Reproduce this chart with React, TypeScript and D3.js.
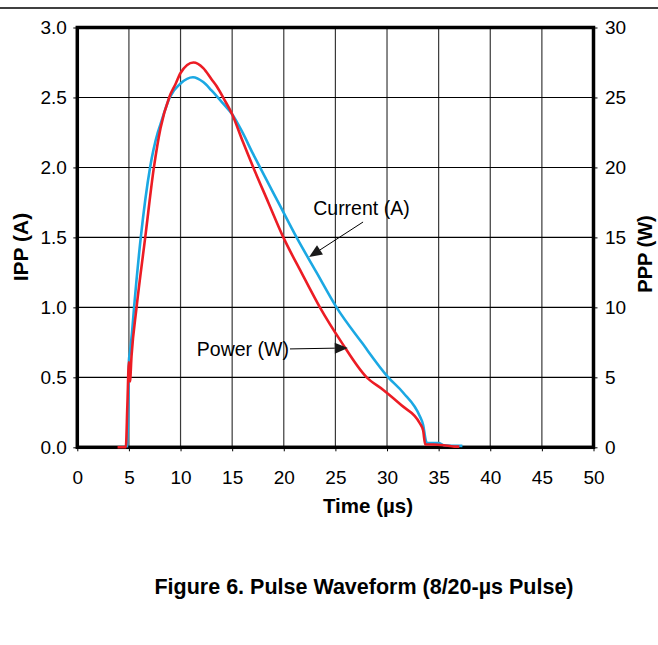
import * as React from 'react';
import * as d3 from 'd3';

const WIDTH = 658;
const HEIGHT = 645;
const FONT = '"Liberation Sans", Arial, Helvetica, sans-serif';

// plot frame in page pixels
const MARGINS = { left: 77.3, right: 658 - 593.5, top: 27.5, bottom: 645 - 447.3 };

const X_TICKS = [0, 5, 10, 15, 20, 25, 30, 35, 40, 45, 50];
const Y_TICKS_A = [0, 0.5, 1.0, 1.5, 2.0, 2.5, 3.0];
const Y_TICKS_W = [0, 5, 10, 15, 20, 25, 30];

// Current (A) trace
const currentTime = [
    4.8, 4.95, 5.0, 5.1, 5.3, 5.5, 6.15, 7.05, 7.8, 8.06, 8.95, 10.0, 11.2, 12.2, 13.0, 13.5,
    14.2, 15.0, 16.0, 17.0, 17.7, 19.47, 21.24, 23.17, 25.11, 27.54, 30.12, 31.57, 33.19, 33.5,
    33.75, 33.85, 35.0, 35.5, 37.3
];
const currentAmps = [
    0, 0.3, 0.62, 0.68, 0.82, 1.0, 1.5, 2.0, 2.25, 2.31, 2.5, 2.6, 2.645, 2.61, 2.55, 2.51,
    2.45, 2.38, 2.25, 2.1, 2.0, 1.75, 1.5, 1.25, 1.0, 0.75, 0.5, 0.39, 0.22, 0.16,
    0.05, 0.03, 0.03, 0.015, 0.01
];

// Power (W) trace
const powerTime = [
    3.9, 4.7, 4.85, 5.0, 5.1, 5.25, 5.74, 6.58, 7.42, 8.06, 8.9, 9.54, 10.0, 11.25, 12.2, 13.0,
    13.5, 14.2, 15.0, 16.0, 17.05, 18.5, 19.96, 21.7, 23.5, 25.6, 28.03, 29.64, 31.4, 33.19,
    33.5, 33.7, 34.5, 35.5, 36.5, 37.0
];
const powerWatts = [
    0, 0, 3.0, 6.1, 4.7, 6.5, 10, 15, 20, 22.8, 25, 26.0, 26.75, 27.5, 27.1, 26.3,
    25.8, 24.9, 23.8, 21.9, 20.0, 17.5, 15, 12.5, 10, 7.5, 5, 4.1, 3.0, 1.7,
    1.2, 0.2, 0.2, 0.15, 0.05, 0.05
];

// callouts in data units: label anchor, arrow tail, arrow tip
const CALLOUT_TEXT = ['Current (A)', 'Power (W)'];
const CALLOUT_ANCHOR = ['start', 'end'];
const CALLOUT_LABEL_POS = [[22.85, 1.66], [20.5, 0.653]];
const CALLOUT_TAIL = [[27.68, 1.61], [20.6, 0.703]];
const CALLOUT_TIP = [[22.45, 1.36], [26.2, 0.71]];

const BLUE = '#1ba8e3';
const RED = '#ec1c24';

export default function App() {
    const ref = React.useRef<SVGSVGElement>(null);

    React.useEffect(() => {
        const el = ref.current;
        if (!el) return;
        const svg = d3.select(el);
        svg.selectAll('*').remove();

        const x0 = MARGINS.left;
        const x1 = WIDTH - MARGINS.right;
        const y0 = HEIGHT - MARGINS.bottom;
        const y1 = MARGINS.top;

        const xScale = d3.scaleLinear().domain([0, 50]).range([x0, x1]);
        const yScale = d3.scaleLinear().domain([0, 3]).range([y0, y1]);
        const y2Scale = d3.scaleLinear().domain([0, 30]).range([y0, y1]);

        // rule across the top of the page
        svg.append('line')
            .attr('x1', 0).attr('x2', WIDTH)
            .attr('y1', 8).attr('y2', 8)
            .attr('stroke', '#000').attr('stroke-width', 1.5);

        // GRID
        const grid = svg.append('g').attr('class', 'grid');
        grid.selectAll('line.v')
            .data(X_TICKS.slice(1, -1))
            .enter().append('line')
            .attr('class', 'v')
            .attr('x1', d => xScale(d)).attr('x2', d => xScale(d))
            .attr('y1', y0).attr('y2', y1)
            .attr('stroke', '#3a3a3a').attr('stroke-width', 1.2);
        grid.selectAll('line.h')
            .data(Y_TICKS_A.slice(1, -1))
            .enter().append('line')
            .attr('class', 'h')
            .attr('x1', x0).attr('x2', x1)
            .attr('y1', d => yScale(d)).attr('y2', d => yScale(d))
            .attr('stroke', '#000').attr('stroke-width', 1.1);

        // AXES
        const styleAxis = (g: any) => {
            g.select('.domain').remove();
            g.selectAll('.tick line').attr('stroke', '#000').attr('stroke-width', 1);
            g.selectAll('.tick text')
                .attr('fill', '#000')
                .style('font-family', FONT)
                .style('font-size', '19px');
        };

        const yCall = d3.axisLeft(yScale)
            .tickValues(Y_TICKS_A)
            .tickFormat(d3.format('.1f') as any)
            .tickSize(4).tickPadding(6.5);
        svg.append('g').attr('class', 'axis y')
            .attr('transform', 'translate(' + [x0, 0] + ')')
            .call(yCall).call(styleAxis);

        const ryCall = d3.axisRight(y2Scale)
            .tickValues(Y_TICKS_W)
            .tickFormat(d3.format('d') as any)
            .tickSize(4).tickPadding(7.5);
        svg.append('g').attr('class', 'axis ry')
            .attr('transform', 'translate(' + [x1, 0] + ')')
            .call(ryCall).call(styleAxis);

        const xCall = d3.axisBottom(xScale)
            .tickValues(X_TICKS)
            .tickFormat(d3.format('d') as any)
            .tickSize(4).tickPadding(19);
        svg.append('g').attr('class', 'axis x')
            .attr('transform', 'translate(' + [0, y0] + ')')
            .call(xCall).call(styleAxis);

        // frame
        svg.append('rect')
            .attr('x', x0).attr('y', y1)
            .attr('width', x1 - x0).attr('height', y0 - y1)
            .attr('fill', 'none')
            .attr('stroke', '#000').attr('stroke-width', 3.5);

        // TRACES
        const lineA = d3.line<number>()
            .x((d, i) => xScale(currentTime[i]))
            .y(d => yScale(d))
            .curve(d3.curveMonotoneX);
        const lineW = d3.line<number>()
            .x((d, i) => xScale(powerTime[i]))
            .y(d => y2Scale(d))
            .curve(d3.curveMonotoneX);

        svg.append('path')
            .attr('d', lineA(currentAmps))
            .attr('fill', 'none')
            .attr('stroke', BLUE).attr('stroke-width', 2.6)
            .attr('stroke-linejoin', 'round');
        svg.append('path')
            .attr('d', lineW(powerWatts))
            .attr('fill', 'none')
            .attr('stroke', RED).attr('stroke-width', 2.6)
            .attr('stroke-linejoin', 'round');

        // CALLOUTS
        CALLOUT_TEXT.forEach((txt, i) => {
            const tx = xScale(CALLOUT_TAIL[i][0]);
            const ty = yScale(CALLOUT_TAIL[i][1]);
            const px = xScale(CALLOUT_TIP[i][0]);
            const py = yScale(CALLOUT_TIP[i][1]);
            const ang = Math.atan2(py - ty, px - tx);
            const len = 13;
            const half = 5.5;
            const bx = px - len * Math.cos(ang);
            const by = py - len * Math.sin(ang);
            svg.append('line')
                .attr('x1', tx).attr('y1', ty)
                .attr('x2', bx).attr('y2', by)
                .attr('stroke', '#000').attr('stroke-width', 1);
            svg.append('polygon')
                .attr('points', [
                    [px, py],
                    [bx + half * Math.sin(ang), by - half * Math.cos(ang)],
                    [bx - half * Math.sin(ang), by + half * Math.cos(ang)]
                ].map(p => p.join(',')).join(' '))
                .attr('fill', '#1a1a1a');
            svg.append('text')
                .attr('x', xScale(CALLOUT_LABEL_POS[i][0]))
                .attr('y', yScale(CALLOUT_LABEL_POS[i][1]))
                .attr('text-anchor', CALLOUT_ANCHOR[i])
                .style('font-family', FONT)
                .style('font-size', '19.5px')
                .text(txt);
        });

        // TITLES
        svg.append('text')
            .attr('transform', 'translate(' + [28, 247] + ') rotate(-90)')
            .attr('text-anchor', 'middle')
            .style('font-family', FONT).style('font-size', '21px').style('font-weight', 'bold')
            .text('IPP (A)');
        svg.append('text')
            .attr('transform', 'translate(' + [652, 254] + ') rotate(-90)')
            .attr('text-anchor', 'middle')
            .style('font-family', FONT).style('font-size', '20px').style('font-weight', 'bold')
            .text('PPP (W)');
        svg.append('text')
            .attr('x', 368).attr('y', 512.5)
            .attr('text-anchor', 'middle')
            .style('font-family', FONT).style('font-size', '20.5px').style('font-weight', 'bold')
            .text('Time (µs)');
        svg.append('text')
            .attr('x', 364).attr('y', 593.5)
            .attr('text-anchor', 'middle')
            .style('font-family', FONT).style('font-size', '21.5px').style('font-weight', 'bold')
            .text('Figure 6. Pulse Waveform (8/20-µs Pulse)');
    }, []);

    return (
        <svg
            ref={ref}
            width={WIDTH}
            height={HEIGHT}
            style={{ position: 'absolute', left: 0, top: 0, background: '#fff' }}
        />
    );
}
